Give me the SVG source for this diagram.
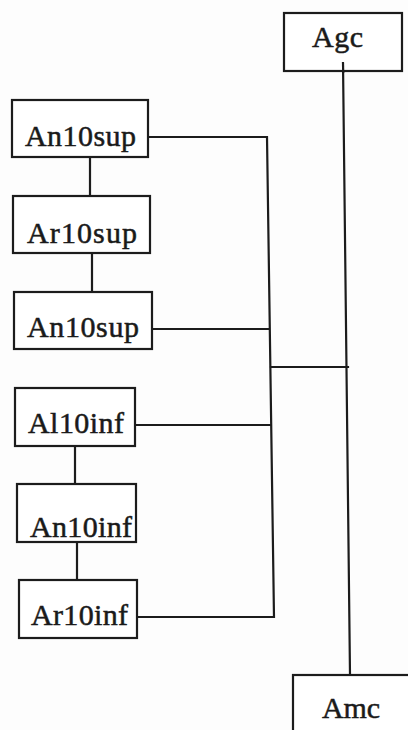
<svg xmlns="http://www.w3.org/2000/svg" width="408" height="730" viewBox="0 0 408 730">
  <style>
    .box { fill: #ffffff; stroke: #1c1c1c; stroke-width: 2.2; }
    .lbl { font-family: "Liberation Serif", "Times New Roman", serif; font-size: 30px; fill: #1a1a1a; stroke: #1a1a1a; stroke-width: 0.5; }
    .wire { fill: none; stroke: #1c1c1c; stroke-width: 2.2; stroke-linecap: square; }
  </style>
  <rect width="408" height="730" fill="#fdfdfd"/>

  <!-- connectors -->
  <g id="connectors">
    <!-- chain links between stacked boxes -->
    <line class="wire" x1="90" y1="157" x2="90" y2="196"/>
    <line class="wire" x1="92" y1="253" x2="92" y2="292"/>
    <line class="wire" x1="75" y1="446" x2="75" y2="484"/>
    <line class="wire" x1="77" y1="542" x2="77" y2="580"/>
    <!-- left bus collecting the six boxes -->
    <polyline class="wire" points="148,137 267,137 274,617 137,617"/>
    <line class="wire" x1="152" y1="329" x2="268" y2="329"/>
    <line class="wire" x1="135" y1="425" x2="270" y2="425"/>
    <!-- bus to main trunk -->
    <line class="wire" x1="271" y1="367" x2="348" y2="367"/>
    <!-- main trunk Agc to Amc -->
    <line class="wire" x1="343" y1="63" x2="350" y2="675"/>
  </g>

  <g id="agc">
    <rect class="box" x="284" y="13" width="118" height="58"/>
    <text class="lbl" x="312" y="47" textLength="51">Agc</text>
  </g>
  <!-- trunk enters the Agc box from below -->
  <line class="wire" x1="343" y1="63" x2="343.2" y2="72"/>

  <g id="an10sup-top">
    <rect class="box" x="12" y="100" width="136" height="57"/>
    <text class="lbl" x="25" y="146" textLength="111">An10sup</text>
  </g>

  <g id="ar10sup">
    <rect class="box" x="13" y="196" width="137" height="57"/>
    <text class="lbl" x="27" y="243" textLength="110">Ar10sup</text>
  </g>

  <g id="an10sup-low">
    <rect class="box" x="14" y="292" width="138" height="57"/>
    <text class="lbl" x="27" y="337" textLength="112">An10sup</text>
  </g>

  <g id="al10inf">
    <rect class="box" x="15" y="388" width="120" height="58"/>
    <text class="lbl" x="28" y="433" textLength="96">Al10inf</text>
  </g>

  <g id="an10inf">
    <rect class="box" x="17" y="484" width="119" height="58"/>
    <text class="lbl" x="30" y="537" textLength="102">An10inf</text>
  </g>

  <g id="ar10inf">
    <rect class="box" x="19" y="580" width="118" height="58"/>
    <text class="lbl" x="31" y="625" textLength="97">Ar10inf</text>
  </g>

  <g id="amc">
    <rect class="box" x="293" y="675" width="130" height="70"/>
    <text class="lbl" x="322" y="718" textLength="58">Amc</text>
  </g>
</svg>
